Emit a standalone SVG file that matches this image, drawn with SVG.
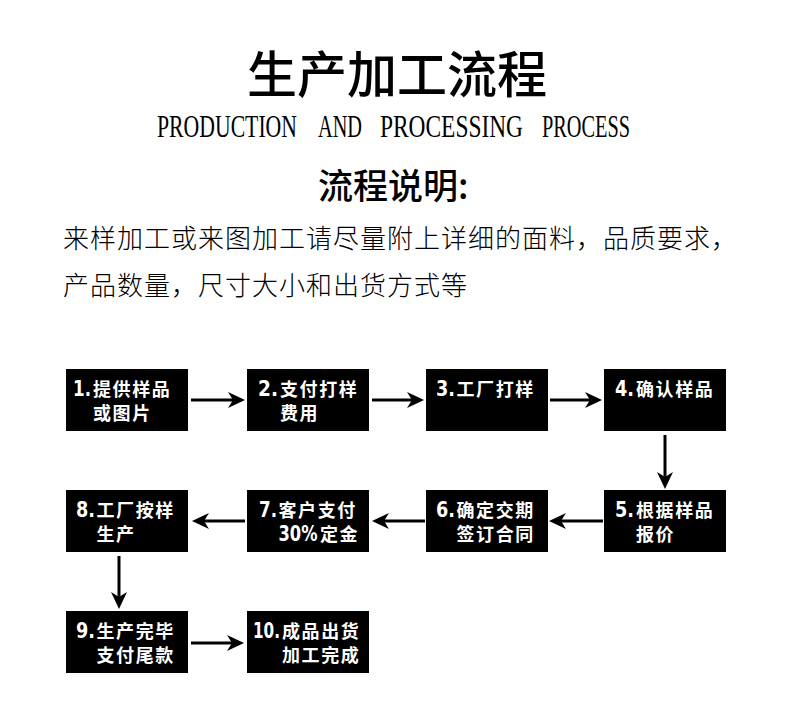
<svg xmlns="http://www.w3.org/2000/svg" width="790" height="703" viewBox="0 0 790 703">
<defs>
<style>
.box{fill:#000}
.lbl{font-family:"Noto Sans CJK SC",sans-serif;font-weight:bold;font-size:18px;fill:#fff}
.num{font-family:"DejaVu Sans","Noto Sans CJK SC",sans-serif;font-size:21px;letter-spacing:0}
.cjk{letter-spacing:1.6px}
.conn{stroke:#000;stroke-width:3;fill:none;marker-end:url(#ah)}
.title{font-family:"Noto Sans CJK SC",sans-serif;font-size:50px;font-weight:500;fill:#000}
.sub{font-family:"Liberation Serif",serif;font-size:32px;fill:#000}
.h2{font-family:"Noto Sans CJK SC",sans-serif;font-size:35px;font-weight:500;fill:#000}
.para{font-family:"Noto Sans CJK SC",sans-serif;font-size:26px;font-weight:300;letter-spacing:1px;fill:#000}
</style>
<marker id="ah" viewBox="-6 -9 19 18" markerWidth="19" markerHeight="18" refX="0" refY="0" orient="auto" markerUnits="userSpaceOnUse">
<path d="M12,0 L-5,-8 L0,0 L-5,8 Z" fill="#000"/>
</marker>
</defs>
<rect width="790" height="703" fill="#fff"/>
<g id="header">
<text class="title" x="397" y="93" text-anchor="middle">生产加工流程</text>
<text class="sub" y="137"><tspan x="157" textLength="140" lengthAdjust="spacingAndGlyphs">PRODUCTION</tspan><tspan x="318" textLength="44" lengthAdjust="spacingAndGlyphs">AND</tspan><tspan x="380" textLength="143" lengthAdjust="spacingAndGlyphs">PROCESSING</tspan><tspan x="542" textLength="88" lengthAdjust="spacingAndGlyphs">PROCESS</tspan></text>
<text class="h2" x="318" y="199">流程说明:</text>
<text class="para" x="63" y="248">来样加工或来图加工请尽量附上详细的面料，品质要求，</text>
<text class="para" x="63" y="295">产品数量，尺寸大小和出货方式等</text>
</g>
<g id="n1"><rect class="box" x="66" y="369" width="122" height="62"/>
<text class="lbl" y="396"><tspan class="num" x="73" textLength="18" lengthAdjust="spacingAndGlyphs">1.</tspan><tspan class="cjk" x="93">提供样品</tspan></text>
<text class="lbl cjk" x="93" y="420">或图片</text></g>
<g id="n2"><rect class="box" x="247" y="369" width="122" height="62"/>
<text class="lbl" y="396"><tspan class="num" x="258" textLength="20" lengthAdjust="spacingAndGlyphs">2.</tspan><tspan class="cjk" x="280">支付打样</tspan></text>
<text class="lbl cjk" x="280" y="420">费用</text></g>
<g id="n3"><rect class="box" x="426" y="369" width="122" height="62"/>
<text class="lbl" y="396"><tspan class="num" x="436" textLength="19" lengthAdjust="spacingAndGlyphs">3.</tspan><tspan class="cjk" x="456.5">工厂打样</tspan></text></g>
<g id="n4"><rect class="box" x="604" y="369" width="122" height="62"/>
<text class="lbl" y="396"><tspan class="num" x="615" textLength="19" lengthAdjust="spacingAndGlyphs">4.</tspan><tspan class="cjk" x="636">确认样品</tspan></text></g>
<g id="n5"><rect class="box" x="604" y="490" width="122" height="62"/>
<text class="lbl" y="517"><tspan class="num" x="615" textLength="19" lengthAdjust="spacingAndGlyphs">5.</tspan><tspan class="cjk" x="636">根据样品</tspan></text>
<text class="lbl cjk" x="636" y="541">报价</text></g>
<g id="n6"><rect class="box" x="426" y="490" width="122" height="62"/>
<text class="lbl" y="517"><tspan class="num" x="436" textLength="19" lengthAdjust="spacingAndGlyphs">6.</tspan><tspan class="cjk" x="456.5">确定交期</tspan></text>
<text class="lbl cjk" x="456.5" y="541">签订合同</text></g>
<g id="n7"><rect class="box" x="247" y="490" width="122" height="62"/>
<text class="lbl" y="517"><tspan class="num" x="259" textLength="18" lengthAdjust="spacingAndGlyphs">7.</tspan><tspan class="cjk" x="278.5">客户支付</tspan></text>
<text class="lbl" y="541"><tspan class="num" x="278.5" textLength="39" lengthAdjust="spacingAndGlyphs">30%</tspan><tspan class="cjk" x="320">定金</tspan></text></g>
<g id="n8"><rect class="box" x="66" y="490" width="122" height="62"/>
<text class="lbl" y="517"><tspan class="num" x="76" textLength="19" lengthAdjust="spacingAndGlyphs">8.</tspan><tspan class="cjk" x="96.5">工厂按样</tspan></text>
<text class="lbl cjk" x="96.5" y="541">生产</text></g>
<g id="n9"><rect class="box" x="66" y="611" width="122" height="62"/>
<text class="lbl" y="638"><tspan class="num" x="76" textLength="19" lengthAdjust="spacingAndGlyphs">9.</tspan><tspan class="cjk" x="96.5">生产完毕</tspan></text>
<text class="lbl cjk" x="96.5" y="662">支付尾款</text></g>
<g id="n10"><rect class="box" x="247" y="611" width="122" height="62"/>
<text class="lbl" y="638"><tspan class="num" x="253" textLength="27" lengthAdjust="spacingAndGlyphs">10.</tspan><tspan class="cjk" x="282">成品出货</tspan></text>
<text class="lbl cjk" x="282" y="662">加工完成</text></g>
<g id="connectors">
<path class="conn" d="M191,400 H233"/>
<path class="conn" d="M372,400 H412"/>
<path class="conn" d="M550,400 H590"/>
<path class="conn" d="M665,435 V477"/>
<path class="conn" d="M603,521 H561"/>
<path class="conn" d="M425,521 H384"/>
<path class="conn" d="M245,521 H204"/>
<path class="conn" d="M119,556 V597"/>
<path class="conn" d="M191,643 H232"/>
</g>
</svg>
